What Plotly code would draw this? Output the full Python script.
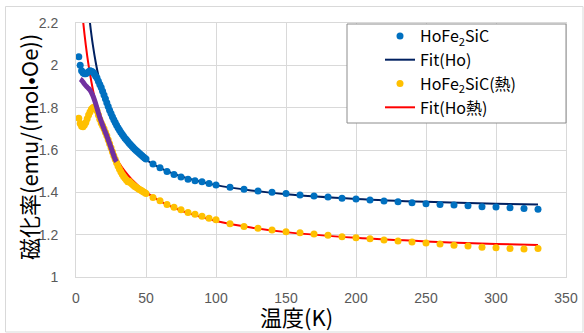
import plotly.graph_objects as go

# ---- data ----
temp_data = [2, 3, 4, 5, 6, 7, 8, 9, 10, 11, 12, 13, 14, 15, 16, 17, 18, 19, 20,
             21, 22, 23, 24, 25, 26, 27, 28, 29, 30, 31, 32, 33, 34, 35, 36, 37, 38, 39, 40,
             41, 42, 43, 44, 45, 46, 47, 48, 49, 50,
             55, 60, 65, 70, 75, 80, 85, 90, 95, 100,
             110, 120, 130, 140, 150, 160, 170, 180, 190, 200, 210, 220, 230, 240, 250,
             260, 270, 280, 290, 300, 310, 320, 330]

chi_ho = [2.04, 2.00, 1.975, 1.965, 1.96, 1.96, 1.965, 1.97, 1.975, 1.972, 1.968, 1.96, 1.95, 1.94,
          1.925, 1.91, 1.895, 1.878, 1.86,
          1.842, 1.823, 1.805, 1.788, 1.772, 1.757, 1.743, 1.73, 1.717, 1.705, 1.694, 1.684, 1.674,
          1.665, 1.656, 1.648, 1.64, 1.632, 1.625, 1.618,
          1.611, 1.604, 1.598, 1.592, 1.586, 1.58, 1.574, 1.568, 1.562, 1.557,
          1.534, 1.516, 1.499, 1.484, 1.472, 1.462, 1.455, 1.450, 1.442, 1.435,
          1.424, 1.414, 1.406, 1.400, 1.395, 1.387, 1.383, 1.378, 1.372, 1.368, 1.364, 1.359,
          1.356, 1.351, 1.346, 1.343, 1.340, 1.337, 1.332, 1.331, 1.327, 1.324, 1.320]

chi_ho_heat = [1.75, 1.725, 1.712, 1.71, 1.718, 1.73, 1.748, 1.765, 1.78, 1.792, 1.80, 1.803, 1.80,
               1.785, 1.765, 1.745, 1.728, 1.715, 1.70,
               1.684, 1.667, 1.649, 1.63, 1.611, 1.592, 1.573, 1.556, 1.540, 1.525, 1.51, 1.497,
               1.485, 1.475, 1.466, 1.458, 1.45, 1.452, 1.445, 1.439,
               1.433, 1.428, 1.424, 1.419, 1.415, 1.411, 1.407, 1.403, 1.399, 1.395,
               1.376, 1.360, 1.343, 1.330, 1.318, 1.305, 1.296, 1.287, 1.278, 1.270,
               1.252, 1.238, 1.230, 1.222, 1.214, 1.209, 1.203, 1.197, 1.190, 1.186, 1.181, 1.175,
               1.170, 1.165, 1.161, 1.156, 1.150, 1.146, 1.140, 1.138, 1.135, 1.132, 1.135]

temp_fit_ho = [9.5, 10, 11, 12, 14, 16, 18, 20, 23, 26, 30, 35, 40, 50, 60, 70, 80, 100,
               125, 150, 200, 250, 300, 330]
fit_ho = [2.228, 2.199, 2.145, 2.098, 2.017, 1.951, 1.897, 1.850, 1.793, 1.747, 1.697, 1.648,
          1.610, 1.554, 1.516, 1.487, 1.465, 1.434, 1.409, 1.391, 1.369, 1.355, 1.346, 1.342]

temp_fit_heat = [5, 6, 7, 8, 9, 10, 12, 14, 16, 18, 20, 23, 26, 30, 35, 40, 50, 60, 70, 80,
                 100, 125, 150, 200, 250, 300, 330]
fit_heat = [2.213, 2.151, 2.095, 2.045, 2.000, 1.959, 1.887, 1.826, 1.774, 1.728, 1.689, 1.638,
            1.595, 1.547, 1.499, 1.460, 1.401, 1.359, 1.327, 1.302, 1.265, 1.234, 1.212, 1.185,
            1.168, 1.156, 1.151]

temp_purple = [3, 4, 6, 8, 10, 12, 14, 16, 18, 20, 22, 24, 26, 28, 29]
chi_purple = [1.935, 1.93, 1.912, 1.897, 1.883, 1.857, 1.82, 1.775, 1.735, 1.70, 1.667, 1.63,
              1.592, 1.556, 1.545]

x_ticks = [0, 50, 100, 150, 200, 250, 300, 350]
y_ticks = [1, 1.2, 1.4, 1.6, 1.8, 2, 2.2]

names = ["HoFe<sub>2</sub>SiC", "Fit(Ho)", "HoFe<sub>2</sub>SiC(熱)", "Fit(Ho熱)"]

BLUE = "#0070C0"
NAVY = "#002060"
ORANGE = "#FFC000"
RED = "#FF0000"
PURPLE = "#7030A0"
GRID = "#D9D9D9"
CJK = "Noto Sans CJK JP"

fig = go.Figure()
fig.add_trace(go.Scatter(x=temp_fit_ho, y=fit_ho, mode="lines", name=names[1],
                         line=dict(color=NAVY, width=2, shape="spline"), legendrank=2))
fig.add_trace(go.Scatter(x=temp_fit_heat, y=fit_heat, mode="lines", name=names[3],
                         line=dict(color=RED, width=2, shape="spline"), legendrank=4))
fig.add_trace(go.Scatter(x=temp_data, y=chi_ho, mode="markers", name=names[0],
                         marker=dict(color=BLUE, size=7), legendrank=1))
fig.add_trace(go.Scatter(x=temp_data, y=chi_ho_heat, mode="markers", name=names[2],
                         marker=dict(color=ORANGE, size=7), legendrank=3))
fig.add_trace(go.Scatter(x=temp_purple, y=chi_purple, mode="lines", showlegend=False,
                         line=dict(color=PURPLE, width=5, shape="spline")))

# plot area in px: left 76, right 566, top 23, bottom 277
def px_x(p):
    return (p - 76) / 490.0

def px_y(p):
    return (277 - p) / 254.0

fig.add_shape(type="rect", xref="paper", yref="paper",
              x0=px_x(347), x1=px_x(566), y0=px_y(123), y1=px_y(24),
              fillcolor="white", line=dict(color="#8C8C8C", width=1), layer="above")
fig.add_shape(type="rect", xref="paper", yref="paper",
              x0=px_x(5.5), x1=px_x(583), y0=px_y(332), y1=px_y(6.5),
              fillcolor="rgba(0,0,0,0)", line=dict(color=GRID, width=1), layer="below")

fig.add_annotation(text="温度(K)", xref="paper", yref="paper", x=px_x(296), y=px_y(316),
                   showarrow=False, xanchor="center", yanchor="middle",
                   font=dict(family=CJK, size=22, color="#000000"))
fig.add_annotation(text="磁化率(emu/(mol•Oe))", xref="paper", yref="paper", x=px_x(28),
                   y=px_y(147), textangle=-90, showarrow=False, xanchor="center",
                   yanchor="middle", font=dict(family=CJK, size=22, color="#000000"))

fig.update_layout(
    width=584, height=333, autosize=False,
    margin=dict(l=76, r=18, t=23, b=56, autoexpand=False),
    paper_bgcolor="white", plot_bgcolor="white",
    showlegend=True,
    legend=dict(x=px_x(380), y=px_y(19), xanchor="left", yanchor="top",
                bgcolor="rgba(0,0,0,0)", borderwidth=0,
                font=dict(family=CJK, size=16, color="#000000"),
                traceorder="normal"),
    xaxis=dict(range=[0, 350], tickvals=x_ticks, showgrid=True, gridcolor=GRID, gridwidth=1,
               zeroline=False, showline=True, linecolor=GRID, mirror=True, ticks="",
               ticklabelstandoff=8, automargin=False,
               tickfont=dict(family="Liberation Sans", size=14, color="#595959")),
    yaxis=dict(range=[1, 2.2], tickvals=y_ticks, showgrid=True, gridcolor=GRID, gridwidth=1,
               zeroline=False, showline=True, linecolor=GRID, mirror=True, ticks="",
               ticklabelstandoff=14, automargin=False,
               tickfont=dict(family="Liberation Sans", size=14, color="#595959")),
)

fig.write_html("out.html", config={"displayModeBar": False},
               post_script="document.body.style.margin='0';document.body.style.padding='0';")
